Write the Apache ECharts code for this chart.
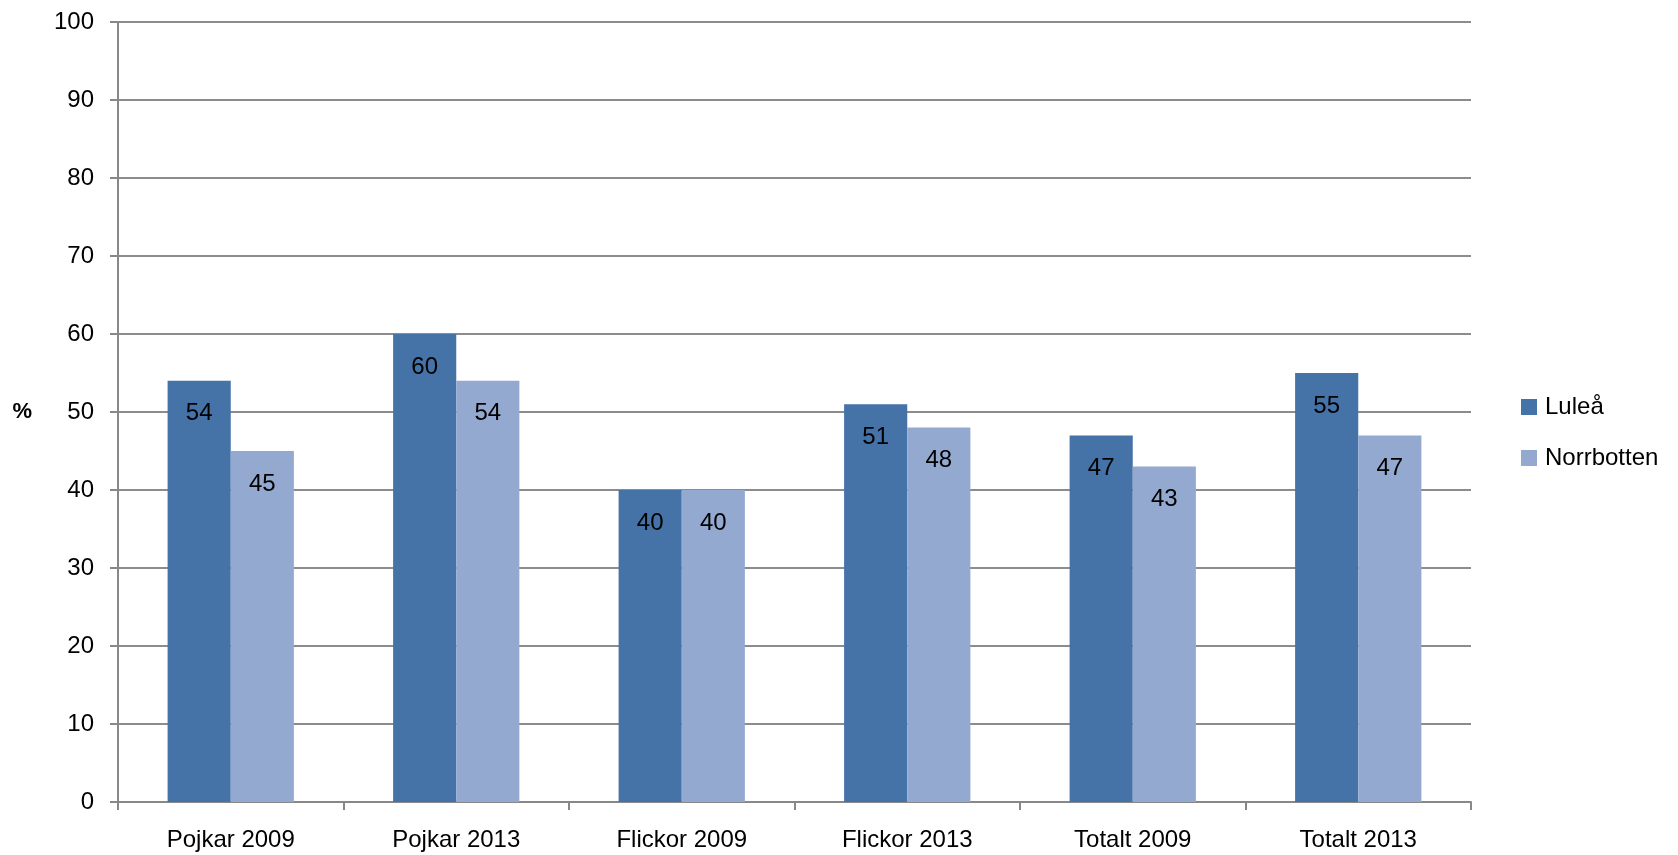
<!DOCTYPE html>
<html>
<head>
<meta charset="utf-8">
<script src="https://cdn.jsdelivr.net/npm/echarts@6/dist/echarts.min.js"></script>
<style>html,body{margin:0;padding:0;background:#fff}#c{width:1678px;height:855px}</style>
</head>
<body>
<div id="c"></div>
<script>
const categories = ['Pojkar 2009','Pojkar 2013','Flickor 2009','Flickor 2013','Totalt 2009','Totalt 2013'];
const lulea = [54,60,40,51,47,55];
const norrbotten = [45,54,40,48,43,47];
const seriesNames = ['Luleå','Norrbotten'];

const chart = echarts.init(document.getElementById('c'));
const font = 'Liberation Sans, Arial, sans-serif';
const fs = 24;
const labelCfg = {show:true, position:'insideTop', distance:21, color:'#000', fontSize:fs, fontFamily:font};
chart.setOption({
  animation:false,
  textStyle:{fontFamily:font},
  grid:{left:118, right:207, top:22, bottom:53},
  legend:{
    orient:'vertical', left:1516, top:390, itemWidth:16, itemHeight:16, itemGap:27,
    icon:'rect', textStyle:{fontSize:fs, color:'#000', fontFamily:font, padding:[0,0,0,3]},
    data:seriesNames
  },
  xAxis:{
    type:'category', data:categories,
    axisLine:{lineStyle:{color:'#888', width:2}},
    axisTick:{show:true, length:8, lineStyle:{color:'#888', width:2}},
    axisLabel:{fontSize:fs, color:'#000', margin:26, fontFamily:font}
  },
  yAxis:{
    type:'value', min:0, max:100, interval:10,
    name:'%', nameLocation:'middle', nameRotate:0, nameGap:86,
    nameTextStyle:{fontSize:22, fontWeight:'bold', color:'#000', fontFamily:font},
    axisLine:{show:true, lineStyle:{color:'#888', width:2}},
    axisTick:{show:true, length:8, lineStyle:{color:'#888', width:2}},
    axisLabel:{fontSize:fs, color:'#000', margin:24, fontFamily:font},
    splitLine:{lineStyle:{color:'#8c8c8c', width:2}}
  },
  series:[
    {name:seriesNames[0], type:'bar', data:lulea, barGap:'0%', barCategoryGap:'44%',
     itemStyle:{color:'#4572A7'}, label:labelCfg},
    {name:seriesNames[1], type:'bar', data:norrbotten, barGap:'0%', barCategoryGap:'44%',
     itemStyle:{color:'#94A9D0'}, label:labelCfg}
  ]
});
</script>
</body>
</html>
